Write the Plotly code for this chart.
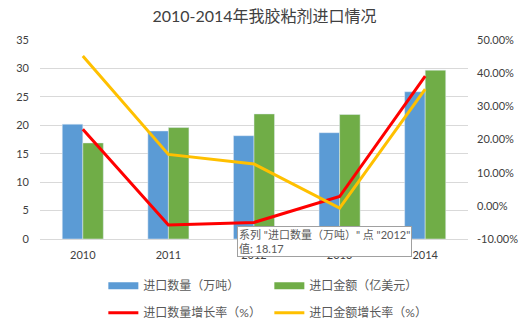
import plotly.graph_objects as go

years = ["2010", "2011", "2012", "2013", "2014"]
qty = [20.2, 19.0, 18.17, 18.7, 25.9]            # 进口数量（万吨）
amount = [16.9, 19.6, 22.0, 21.9, 29.7]          # 进口金额（亿美元）
qty_growth = [23.1, -5.8, -5.0, 2.8, 39.1]       # 进口数量增长率（%）
amount_growth = [45.2, 15.5, 12.6, -0.7, 35.2]   # 进口金额增长率（%）

left_ticks = [0, 5, 10, 15, 20, 25, 30, 35]
right_ticks = [-10, 0, 10, 20, 30, 40, 50]
right_labels = [f"{v:.2f}%" for v in right_ticks]

FONT = "Lato, 'Noto Sans CJK SC', sans-serif"
GRAY = "#595959"
BLUE = "#5b9bd5"
GREEN = "#70ad47"
RED = "#ff0000"
YELLOW = "#ffc000"

fig = go.Figure()
fig.add_trace(go.Bar(x=years, y=qty, marker_color=BLUE, name="进口数量（万吨）", showlegend=False))
fig.add_trace(go.Bar(x=years, y=amount, marker_color=GREEN, name="进口金额（亿美元）", showlegend=False))
fig.add_trace(go.Scatter(x=years, y=qty_growth, mode="lines", line=dict(color=RED, width=3),
                         yaxis="y2", name="进口数量增长率（%）", showlegend=False))
fig.add_trace(go.Scatter(x=years, y=amount_growth, mode="lines", line=dict(color=YELLOW, width=3),
                         yaxis="y2", name="进口金额增长率（%）", showlegend=False))

# legend entries (Excel-style swatches)
for name, color, w, lg in [("进口数量（万吨）", BLUE, 7, "legend"), ("进口金额（亿美元）", GREEN, 7, "legend"),
                           ("进口数量增长率（%）", RED, 3, "legend2"), ("进口金额增长率（%）", YELLOW, 3, "legend2")]:
    fig.add_trace(go.Scatter(x=[years[0]], y=[None], mode="lines", line=dict(color=color, width=w),
                             name=name, yaxis="y2", showlegend=True, hoverinfo="skip", legend=lg))

legend_common = dict(orientation="h", xanchor="left", yanchor="middle", entrywidth=121,
                     itemwidth=30, tracegroupgap=0, font=dict(size=12, color=GRAY),
                     bgcolor="rgba(0,0,0,0)")

fig.update_layout(
    width=529, height=328,
    margin=dict(l=40, r=61, t=40, b=89, autoexpand=False),
    paper_bgcolor="white", plot_bgcolor="white",
    font=dict(family=FONT, size=11, color=GRAY),
    title=dict(text="2010-2014年我胶粘剂进口情况", x=0.5, xanchor="center", y=0.95, yanchor="middle",
               font=dict(size=16, color="#404040", family=FONT)),
    barmode="group", bargap=0.52, bargroupgap=0,
    xaxis=dict(type="category", categoryorder="array", categoryarray=years,
               range=[-0.5, len(years) - 0.5], showgrid=False, ticks="",
               showline=True, linecolor="#d9d9d9",
               tickfont=dict(size=11, color="#404040"), ticklabelstandoff=6),
    yaxis=dict(range=[0, 35], tickvals=left_ticks, showgrid=True, gridcolor="#d9d9d9",
               zeroline=False, showline=False, ticks="", ticklabelstandoff=10,
               tickfont=dict(size=11, color="#404040")),
    yaxis2=dict(range=[-10, 50], tickvals=right_ticks, ticktext=right_labels,
                overlaying="y", side="right",
                showgrid=False, zeroline=False, showline=False, ticks="", ticklabelstandoff=8,
                tickfont=dict(size=11, color="#404040")),
    legend=dict(x=0.148, y=-0.235, **legend_common),
    legend2=dict(x=0.148, y=-0.37, **legend_common),
)

fig.add_annotation(x=years.index("2012"), y=qty[2], xref="x", yref="y", showarrow=False,
                   text='系列 "进口数量（万吨）" 点 "2012"<br>值: 18.17',
                   align="left", xanchor="left", yanchor="top", xshift=-17, yshift=-90,
                   bgcolor="white", bordercolor="#a0a0a0", borderwidth=1, borderpad=1,
                   font=dict(size=11, color=GRAY))

fig.write_html("out.html")
